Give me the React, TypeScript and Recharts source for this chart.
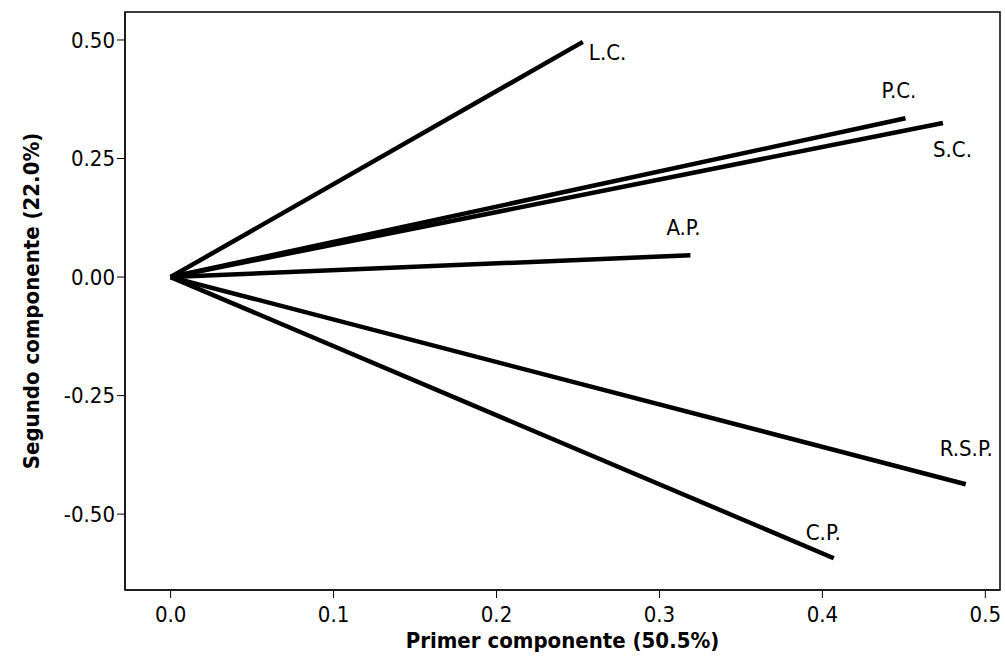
import React from "react";
import { LineChart, Line, XAxis, YAxis, Label, ReferenceArea } from "recharts";

const names = ["L.C.", "P.C.", "S.C.", "A.P.", "R.S.P.", "C.P."];
const pc1 = [0.253, 0.451, 0.474, 0.319, 0.488, 0.407];
const pc2 = [0.496, 0.335, 0.325, 0.046, -0.437, -0.593];
const xTicks = [0, 0.1, 0.2, 0.3, 0.4, 0.5];
const yTicks = [-0.5, -0.25, 0, 0.25, 0.5];
const xDomain = [-0.028, 0.509];
const yDomain = [-0.66, 0.559];
// label offsets relative to vector end
const labelDx = [6, -24, -10, -24, -26, -28];
const labelDy = [18, -20, 34, -20, -28, -18];

const font = "DejaVu Sans Condensed, DejaVu Sans, sans-serif";

export default function App() {
  return (
    <div style={{ position: "absolute", left: 0, top: 0, width: 1005, height: 661, background: "#fff" }}>
      <LineChart width={1005} height={661} margin={{ top: 12, right: 5, bottom: 21, left: 65 }}>
        <XAxis
          type="number"
          dataKey="x"
          domain={xDomain}
          ticks={xTicks}
          tickFormatter={(v) => v.toFixed(1)}
          allowDataOverflow
          height={50}
          stroke="#000"
          tickSize={8}
          tick={{ fill: "#000", fontSize: 22, fontFamily: font, dy: 6 }}
        >
          <Label value="Primer componente (50.5%)" position="insideBottom" offset={-8}
            style={{ fill: "#000", fontSize: 22, fontWeight: "bold", fontFamily: font }} />
        </XAxis>
        <YAxis
          type="number"
          dataKey="y"
          domain={yDomain}
          ticks={yTicks}
          tickFormatter={(v) => v.toFixed(2)}
          allowDataOverflow
          width={60}
          stroke="#000"
          tickSize={8}
          tick={{ fill: "#000", fontSize: 22, fontFamily: font }}
        >
          <Label value="Segundo componente (22.0%)" angle={-90} position="insideLeft" offset={-34}
            style={{ fill: "#000", fontSize: 22, fontWeight: "bold", fontFamily: font, textAnchor: "middle" }} />
        </YAxis>
        <ReferenceArea x1={xDomain[0]} x2={xDomain[1]} y1={yDomain[0]} y2={yDomain[1]}
          fill="none" stroke="#000" strokeWidth={1.5} ifOverflow="visible" />
        {names.map((n, i) => (
          <Line
            key={n}
            data={[{ x: 0, y: 0 }, { x: pc1[i], y: pc2[i] }]}
            dataKey="y"
            stroke="#000"
            strokeWidth={4.5}
            dot={false}
            isAnimationActive={false}
            label={(p: any) =>
              p.index === 1 ? (
                <text x={p.x + labelDx[i]} y={p.y + labelDy[i]} fontSize={22} fontFamily={font} fill="#000">
                  {n}
                </text>
              ) : null
            }
          />
        ))}
      </LineChart>
    </div>
  );
}
